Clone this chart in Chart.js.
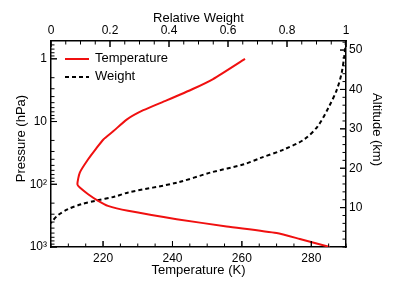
<!DOCTYPE html>
<html>
<head>
<meta charset="utf-8">
<script src="https://cdn.jsdelivr.net/npm/chart.js@4"></script>
<style>
  body { margin: 0; background: #fff; }
</style>
</head>
<body>
<canvas id="chart" width="399" height="288"></canvas>
<script>
// temperature profile (K) vs pressure (hPa)
var tempPressure = [1, 2.1, 3, 4.6, 6.6, 9.3, 14.2, 19.3, 27, 40, 65, 100, 113, 144, 184, 221, 265, 360, 470, 600, 745, 1000];
var tempValues   = [260.9, 251.7, 246, 238.3, 231.6, 226.8, 223, 220.1, 218, 215.7, 213.3, 212.6, 213.3, 215.7, 218.6, 221.4, 227.2, 241.2, 255.6, 270, 276.7, 285.3];

// relative weighting function vs pressure (hPa)
var weightPressure = [0.52, 0.92, 1.7, 3.1, 5.7, 11.9, 19.3, 27.9, 38, 48, 65, 94, 135, 157, 184, 208, 249, 310, 396, 420];
var weightValues   = [1.0, 0.994, 0.985, 0.969, 0.943, 0.904, 0.858, 0.789, 0.711, 0.654, 0.541, 0.428, 0.262, 0.217, 0.149, 0.103, 0.058, 0.024, 0.003, 0];

// tick labels
var tempTicks = [220, 240, 260, 280];
var weightTicks = [0, 0.2, 0.4, 0.6, 0.8, 1];
var pressureTicks = [1, 10, 100, 1000];
var pressureLabels = ['1', '10', '10\u00b2', '10\u00b3'];
var altitudeTicks = [10, 20, 30, 40, 50];

Chart.defaults.font.family = "'Liberation Sans', Arial, sans-serif";
Chart.defaults.color = '#000';

// minor tick values for each axis (major ones come from the arrays above)
function minorValues(scale) {
  var out = [];
  if (scale.id === 'y') {
    for (var d = 0.1; d <= 1000; d *= 10) {
      for (var k = 1; k <= 9; k++) {
        var v = Math.round(k * d * 1000) / 1000;
        if (v >= scale.min && v <= scale.max) out.push(v);
      }
    }
    return out;
  }
  var step = { x: 5, x2: 0.05, y2: 2 }[scale.id];
  for (var v = Math.ceil(scale.min / step) * step; v <= scale.max + 1e-9; v += step) {
    out.push(Math.round(v * 1000) / 1000);
  }
  return out;
}

// ticks are drawn pointing into the plot, like the original
var inwardTicks = {
  id: 'inwardTicks',
  afterDraw: function(chart) {
    var ctx = chart.ctx;
    var a = chart.chartArea;
    ctx.save();
    ctx.strokeStyle = '#000';
    ctx.lineWidth = 1;
    ['x', 'x2', 'y', 'y2'].forEach(function(id) {
      var s = chart.scales[id];
      var majors = s.ticks.map(function(t) { return t.value; });
      var all = minorValues(s).map(function(v) { return [v, majors.indexOf(v) >= 0 ? 6 : 3.5]; });
      majors.forEach(function(v) { all.push([v, 6]); });
      all.forEach(function(t) {
        var p = s.getPixelForValue(t[0]);
        var len = t[1];
        ctx.beginPath();
        if (id === 'x') { ctx.moveTo(p, a.bottom); ctx.lineTo(p, a.bottom - len); }
        if (id === 'x2') { ctx.moveTo(p, a.top); ctx.lineTo(p, a.top + len); }
        if (id === 'y') { ctx.moveTo(a.left, p); ctx.lineTo(a.left + len, p); }
        if (id === 'y2') { ctx.moveTo(a.right, p); ctx.lineTo(a.right - len, p); }
        ctx.stroke();
      });
    });

    // legend in the upper left corner of the plot
    ctx.font = "13px 'Liberation Sans', Arial, sans-serif";
    ctx.textBaseline = 'middle';
    chart.data.datasets.forEach(function(ds, i) {
      var y = a.top + 18 + i * 18;
      ctx.beginPath();
      ctx.strokeStyle = ds.borderColor;
      ctx.lineWidth = ds.borderWidth;
      ctx.setLineDash(ds.borderDash || []);
      ctx.moveTo(a.left + 14, y);
      ctx.lineTo(a.left + 38, y);
      ctx.stroke();
      ctx.setLineDash([]);
      ctx.fillStyle = '#000';
      ctx.fillText(ds.label, a.left + 44, y - 1);
    });
    ctx.restore();
  }
};

function fixedTicks(arr) {
  return function(s) { s.ticks = arr.map(function(v) { return { value: v }; }); };
}

var noGrid = { display: false, drawTicks: false };
var axisLine = { display: true, color: '#000', width: 1.5 };

var ctx = document.getElementById('chart').getContext('2d');
var chart = new Chart(ctx, {
  type: 'line',
  data: {
    datasets: [
      {
        label: 'Temperature',
        data: tempValues.map(function(t, i) { return { x: t, y: tempPressure[i] }; }),
        xAxisID: 'x',
        yAxisID: 'y',
        borderColor: '#f01010',
        borderWidth: 2,
        pointRadius: 0,
        tension: 0.2,
        fill: false
      },
      {
        label: 'Weight',
        data: weightValues.map(function(w, i) { return { x: w, y: weightPressure[i] }; }),
        xAxisID: 'x2',
        yAxisID: 'y',
        borderColor: '#000',
        borderWidth: 2,
        borderDash: [4, 3],
        pointRadius: 0,
        tension: 0.3,
        fill: false
      }
    ]
  },
  options: {
    responsive: false,
    animation: false,
    layout: { padding: 0 },
    plugins: { legend: { display: false }, tooltip: { enabled: false } },
    scales: {
      x: {
        type: 'linear', position: 'bottom', min: 205, max: 290,
        afterBuildTicks: fixedTicks(tempTicks),
        afterFit: function(s) { s.height = 41; },
        grid: noGrid, border: axisLine,
        ticks: { font: { size: 12 }, padding: 4, maxRotation: 0 },
        title: { display: true, text: 'Temperature (K)', font: { size: 13 }, padding: { top: 0, bottom: 10 } }
      },
      x2: {
        type: 'linear', position: 'top', min: 0, max: 1,
        afterBuildTicks: fixedTicks(weightTicks),
        afterFit: function(s) { s.height = 41; },
        grid: noGrid, border: axisLine,
        ticks: {
          font: { size: 12 }, padding: 3, maxRotation: 0,
          callback: function(v) { return String(Number(v)); }
        },
        title: { display: true, text: 'Relative Weight', font: { size: 13 }, padding: { top: 11, bottom: 0 } }
      },
      y: {
        type: 'logarithmic', position: 'left', reverse: true, min: 0.52, max: 1000,
        afterBuildTicks: fixedTicks(pressureTicks),
        afterFit: function(s) { s.width = 51; },
        grid: noGrid, border: axisLine,
        ticks: {
          font: { size: 12 }, padding: 4,
          callback: function(v, i) { return pressureLabels[i]; }
        },
        // leading spaces nudge the rotated title up a little, as in the original
        title: { display: true, text: '   Pressure (hPa)', font: { size: 13 }, padding: { top: 14, bottom: 0 } }
      },
      y2: {
        type: 'linear', position: 'right', min: 0, max: 52.3,
        afterBuildTicks: fixedTicks(altitudeTicks),
        afterFit: function(s) { s.width = 53; },
        grid: noGrid, border: axisLine,
        ticks: { font: { size: 12 }, padding: 3 },
        title: { display: true, text: 'Altitude (km)        ', font: { size: 13 }, padding: { top: 15, bottom: 0 } }
      }
    }
  },
  plugins: [inwardTicks]
});
</script>
</body>
</html>
